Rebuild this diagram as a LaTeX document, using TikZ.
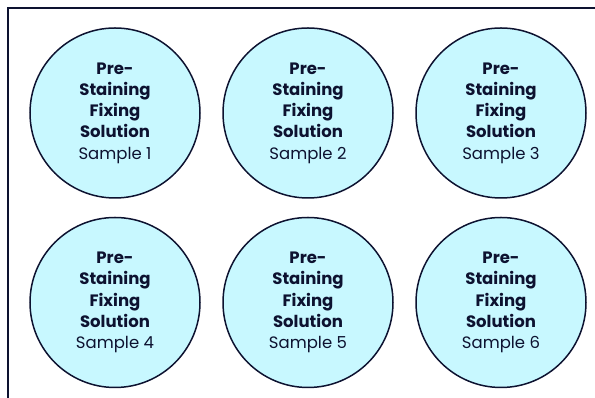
\documentclass[tikz,border=0pt]{standalone}
\usepackage{fontspec}
\setmainfont{Poppins}
\usetikzlibrary{positioning}

\definecolor{wellfill}{HTML}{C8F8FF}
\definecolor{navy}{HTML}{0D1230}

\newcommand{\welltext}[1]{\textbf{Pre-}\\\textbf{Staining}\\\textbf{Fixing}\\\textbf{Solution}\\Sample #1}

\begin{document}
\begin{tikzpicture}[
    x=1pt, y=1pt,
    well/.style={circle, draw=navy, line width=1.5pt, fill=wellfill, minimum size=170pt,
                 inner sep=0pt, align=center, text=navy, font=\fontsize{16.5}{21.3}\selectfont},
    frame/.style={draw=navy, line width=1.6pt},
    node distance=18pt and 21.5pt
]
\useasboundingbox (0,0) rectangle (595,398);

% Plate edge
\coordinate (tr) at (595,390);
\coordinate (tl) at (8,390);
\coordinate (bl) at (8,0);
\draw[frame] (tr) -- (tl) -- (bl);

% Wells
\node[well] (s1) at (115,285) {\welltext{1}};
\node[well, right=of s1] (s2) {\welltext{2}};
\node[well, right=of s2] (s3) {\welltext{3}};
\node[well, below=of s1] (s4) {\welltext{4}};
\node[well, right=of s4] (s5) {\welltext{5}};
\node[well, right=of s5] (s6) {\welltext{6}};

\end{tikzpicture}
\end{document}
